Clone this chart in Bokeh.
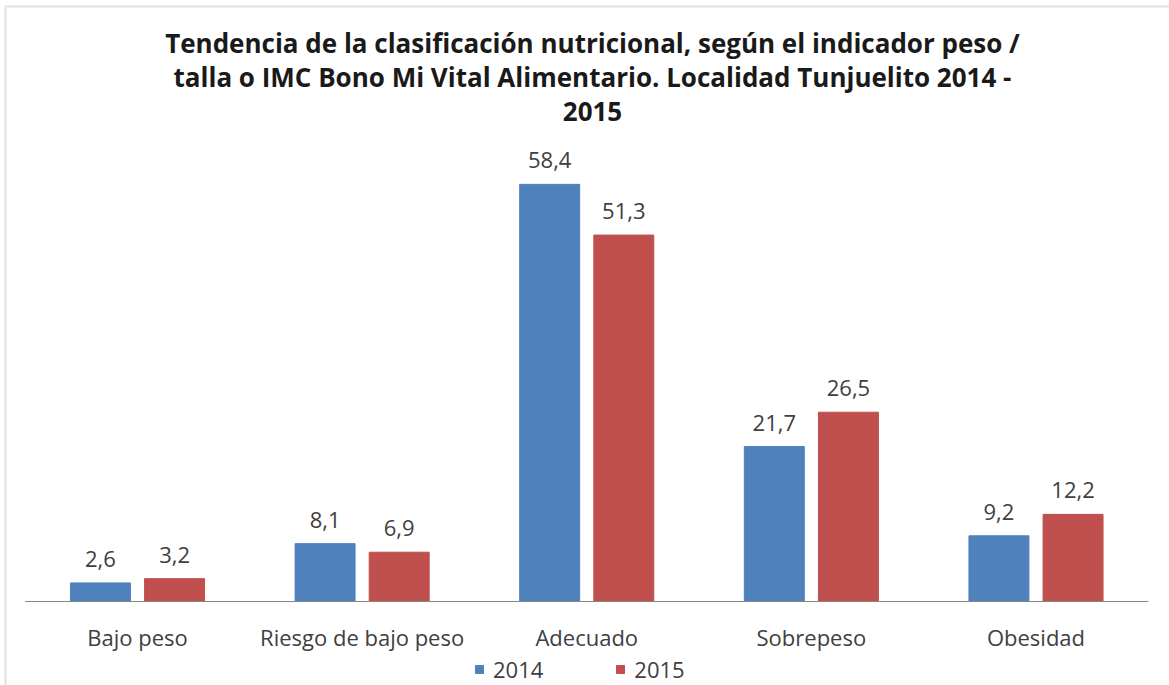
from bokeh.plotting import figure
from bokeh.models import (ColumnDataSource, Range1d, Label, Legend,
                          LegendItem, BoxAnnotation)
from bokeh.core.properties import value
from bokeh.embed import file_html
from bokeh.resources import INLINE

categories = ["Bajo peso", "Riesgo de bajo peso", "Adecuado", "Sobrepeso", "Obesidad"]
years = ["2014", "2015"]
values_2014 = [2.6, 8.1, 58.4, 21.7, 9.2]
values_2015 = [3.2, 6.9, 51.3, 26.5, 12.2]
title_lines = [
    "Tendencia de la clasificación nutricional, según el indicador peso /",
    "talla o IMC Bono Mi Vital Alimentario. Localidad Tunjuelito 2014 -",
    "2015",
]
colors = ["#4F81BD", "#C0504D"]


def fmt(v):
    return f"{v:.1f}".replace(".", ",")


W, H = 1169, 685
# pixel geometry of the plotting area
PX_LEFT, PX_RIGHT, PX_BASE, PX_TOP70 = 24.7, 1147.8, 601.0, 101.0
n = len(categories)
ppu_x = (PX_RIGHT - PX_LEFT) / n
ppu_y = (PX_BASE - PX_TOP70) / 70.0

xs = [i + 0.5 for i in range(n)]
off = 0.165
bw = 0.267

src = ColumnDataSource(dict(
    cat=categories,
    x14=[x - off for x in xs],
    x15=[x + off for x in xs],
    xc=xs,
    zero=[0.0] * n,
    v14=values_2014,
    v15=values_2015,
    l14=[fmt(v) for v in values_2014],
    l15=[fmt(v) for v in values_2015],
))

FONT = "Open Sans"
TXT = "#404040"

p = figure(x_range=Range1d(-PX_LEFT / ppu_x, n + (W - PX_RIGHT) / ppu_x),
           y_range=Range1d(-(H - PX_BASE) / ppu_y, PX_BASE / ppu_y),
           width=W, height=H, output_backend="svg", toolbar_location=None,
           x_axis_location=None, y_axis_location=None,
           min_border_left=0, min_border_right=0,
           min_border_top=0, min_border_bottom=0)
p.outline_line_color = None
p.xgrid.visible = False
p.ygrid.visible = False

r14 = p.vbar(x="x14", top="v14", width=bw, source=src,
             fill_color=colors[0], line_color=colors[0])
r15 = p.vbar(x="x15", top="v15", width=bw, source=src,
             fill_color=colors[1], line_color=colors[1])

# category baseline
p.segment(x0=0, x1=n, y0=0, y1=0, line_color="#868686", line_width=1)

# data labels
for xc, col, lab in (("x14", "v14", "l14"), ("x15", "v15", "l15")):
    p.text(x=xc, y=col, text=lab, source=src,
           text_align="center", text_baseline="alphabetic", y_offset=-24,
           text_font=value(FONT), text_font_size="22px", text_color=TXT)

# category labels
p.text(x="xc", y="zero", text="cat", source=src, text_align="center",
       text_baseline="alphabetic", y_offset=35,
       text_font=value(FONT), text_font_size="22px", text_color=TXT)

legend = Legend(items=[LegendItem(label=years[0], renderers=[r14]),
                       LegendItem(label=years[1], renderers=[r15])],
                orientation="horizontal", location=(474, 1),
                glyph_width=10, glyph_height=10, label_standoff=9, spacing=72,
                padding=0, margin=0, border_line_color=None,
                background_fill_alpha=0, label_text_font=FONT,
                label_text_font_size="22px", label_text_color=TXT)
p.add_layout(legend, "center")

ys = [H - 42, H - 76, H - 111]
for t, y in zip(title_lines, ys):
    p.add_layout(Label(x=592, y=y, x_units="screen", y_units="screen", text=t,
                       text_align="center", text_baseline="alphabetic",
                       text_font=FONT, text_font_style="bold",
                       text_font_size="26px", text_color="#1a1a1a"))

border = BoxAnnotation(left=5, right=5000, top=H - 6, bottom=-5000,
                       left_units="screen", right_units="screen",
                       top_units="screen", bottom_units="screen",
                       fill_alpha=0, line_color="#9a9a9a", line_width=2)
p.add_layout(border)

open("out.html", "w").write(file_html(p, INLINE))
